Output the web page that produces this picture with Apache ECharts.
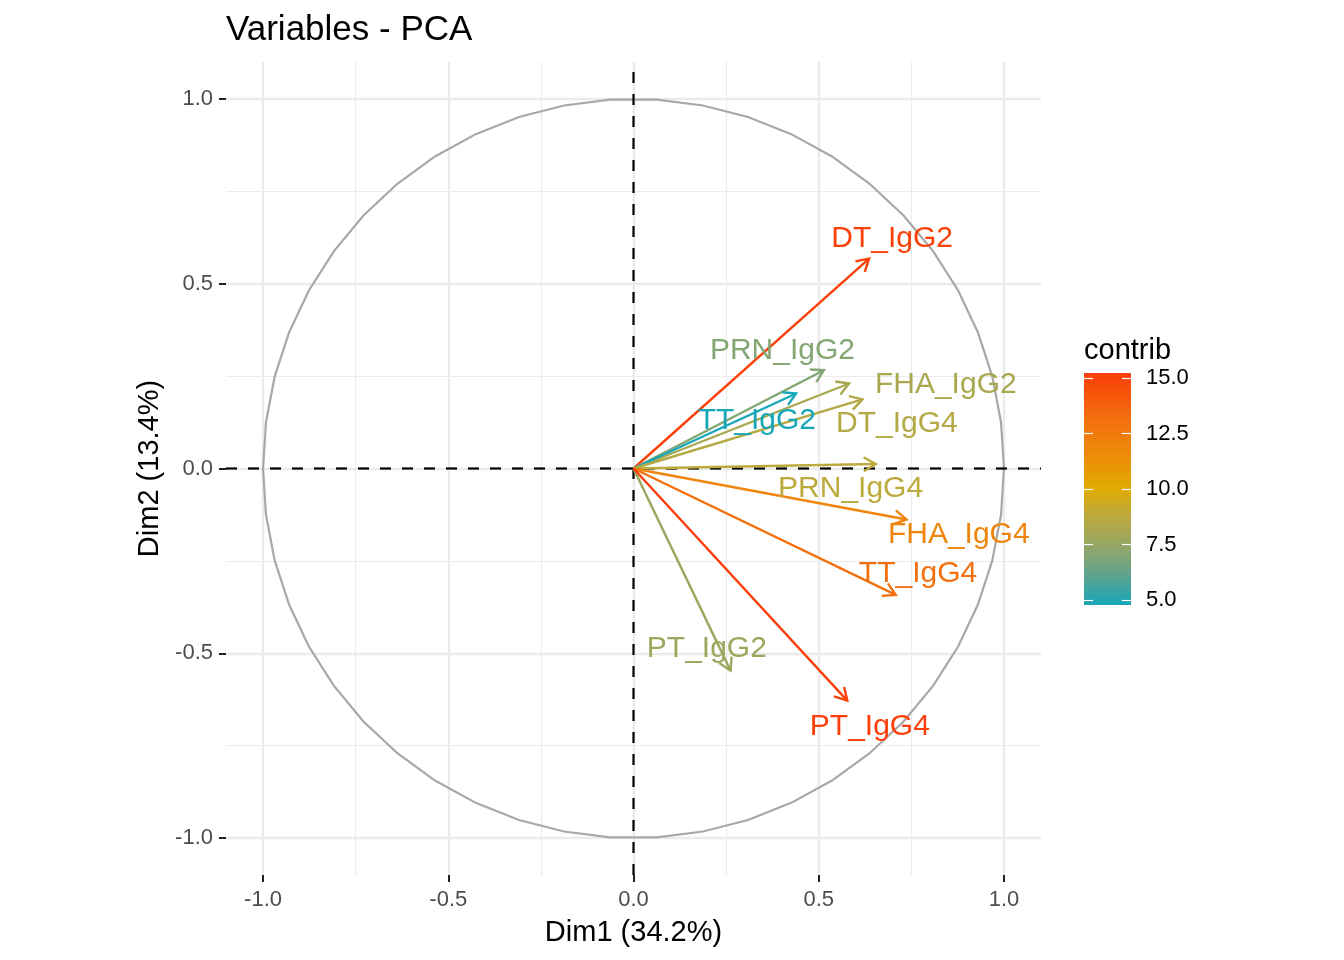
<!DOCTYPE html>
<html>
<head>
<meta charset="utf-8">
<title>Variables - PCA</title>
<script src="https://cdn.jsdelivr.net/npm/echarts@6/dist/echarts.min.js"></script>
<style>
  html, body { margin: 0; padding: 0; background: #fff; }
  #chart { width: 1344px; height: 960px; }
</style>
</head>
<body>
<div id="chart"></div>
<script>
// variable coordinates on Dim1 / Dim2
var varNames = ['DT_IgG2', 'PRN_IgG2', 'FHA_IgG2', 'TT_IgG2', 'DT_IgG4', 'PRN_IgG4', 'FHA_IgG4', 'TT_IgG4', 'PT_IgG2', 'PT_IgG4'];
var dim1 = [0.636, 0.514, 0.582, 0.439, 0.618, 0.654, 0.737, 0.708, 0.262, 0.577];
var dim2 = [0.568, 0.266, 0.230, 0.203, 0.187, 0.012, -0.138, -0.342, -0.547, -0.628];
var contrib = [15.10, 6.97, 8.10, 4.78, 8.50, 8.80, 11.90, 13.10, 7.70, 15.23];
// where each label text sits (data units)
var labelX = [0.698, 0.402, 0.843, 0.333, 0.711, 0.586, 0.878, 0.768, 0.198, 0.638];
var labelY = [0.625, 0.322, 0.232, 0.133, 0.124, -0.052, -0.174, -0.282, -0.484, -0.696];

var axisTicks = [-1, -0.5, 0, 0.5, 1];
var minorTicks = [-0.75, -0.25, 0.25, 0.75];
var legendTicks = [5, 7.5, 10, 12.5, 15];
// colour ramp sampled from the legend bar (low -> high)
var rampPos = [0, 0.12, 0.22, 0.32, 0.40, 0.50, 0.65, 0.80, 1];
var rampHex = ['#17A7B9', '#5AA391', '#88A670', '#AAA850', '#C0AA38', '#E0AB00', '#EE8A0A', '#F2700E', '#FB3E0A'];

var axisMin = -1.1, axisMax = 1.1;
var circlePoints = 51;
var contribMin = Math.min.apply(null, contrib);
var contribMax = Math.max.apply(null, contrib);
var fontFamily = '"Liberation Sans", Arial, Helvetica, sans-serif';

function hexRgb(h) {
    return [parseInt(h.substr(1, 2), 16), parseInt(h.substr(3, 2), 16), parseInt(h.substr(5, 2), 16)];
}
function rampColor(t) {
    t = Math.max(0, Math.min(1, t));
    var k = 0;
    while (k < rampPos.length - 2 && t > rampPos[k + 1]) k++;
    var f = (t - rampPos[k]) / (rampPos[k + 1] - rampPos[k]);
    var a = hexRgb(rampHex[k]), b = hexRgb(rampHex[k + 1]);
    var c = [0, 1, 2].map(function (j) { return Math.round(a[j] + (b[j] - a[j]) * f); });
    return 'rgb(' + c.join(',') + ')';
}
function contribColor(v) {
    return rampColor((v - contribMin) / (contribMax - contribMin));
}

var arrowData = [], labelData = [];
for (var i = 0; i < varNames.length; i++) {
    arrowData.push([dim1[i], dim2[i], contrib[i]]);
    labelData.push([labelX[i], labelY[i], contrib[i]]);
}

function renderCircle(params, api) {
    var pts = [];
    for (var k = 0; k < circlePoints; k++) {
        var t = 2 * Math.PI * k / (circlePoints - 1);
        pts.push(api.coord([Math.cos(t), Math.sin(t)]));
    }
    return {
        type: 'polyline',
        shape: { points: pts },
        style: { stroke: '#A8A8A8', lineWidth: 2.2, fill: null }
    };
}

function renderZeroLines(params, api) {
    var v0 = api.coord([0, axisMin]), v1 = api.coord([0, axisMax]);
    var h0 = api.coord([axisMin, 0]), h1 = api.coord([axisMax, 0]);
    var st = { stroke: '#000', lineWidth: 2.2, lineDash: [11, 11] };
    return {
        type: 'group',
        children: [
            { type: 'line', shape: { x1: h0[0], y1: h0[1], x2: h1[0], y2: h1[1] }, style: st },
            { type: 'line', shape: { x1: v0[0], y1: v0[1], x2: v1[0], y2: v1[1] }, style: st }
        ]
    };
}

function renderArrow(params, api) {
    var start = api.coord([0, 0]);
    var end = api.coord([api.value(0), api.value(1)]);
    var color = contribColor(api.value(2));
    var ang = Math.atan2(end[1] - start[1], end[0] - start[0]);
    var len = 14, spread = Math.PI / 6;
    var a1 = [end[0] - len * Math.cos(ang - spread), end[1] - len * Math.sin(ang - spread)];
    var a2 = [end[0] - len * Math.cos(ang + spread), end[1] - len * Math.sin(ang + spread)];
    return {
        type: 'group',
        children: [
            { type: 'line', shape: { x1: start[0], y1: start[1], x2: end[0], y2: end[1] },
              style: { stroke: color, lineWidth: 2.4 } },
            { type: 'polyline', shape: { points: [a1, end, a2] },
              style: { stroke: color, lineWidth: 2.4, fill: null } }
        ]
    };
}

function renderLabel(params, api) {
    var p = api.coord([api.value(0), api.value(1)]);
    return {
        type: 'text',
        x: p[0],
        y: p[1] + 1.5,
        style: {
            text: varNames[params.dataIndex],
            fill: contribColor(api.value(2)),
            fontSize: 30,
            fontFamily: fontFamily,
            align: 'center',
            verticalAlign: 'middle'
        }
    };
}

function renderColorBar(params, api) {
    var top = api.coord([0, contribMax]);
    var bottom = api.coord([1, contribMin]);
    var stops = rampPos.map(function (p, k) {
        return { offset: 1 - p, color: rampHex[k] };
    }).reverse();
    return {
        type: 'rect',
        shape: { x: top[0], y: top[1], width: bottom[0] - top[0], height: bottom[1] - top[1] },
        style: { fill: new echarts.graphic.LinearGradient(0, 0, 0, 1, stops) }
    };
}

function fmt(v) { return v.toFixed(1); }

function mainAxis(name, extra) {
    var a = {
        type: 'value',
        gridIndex: 0,
        min: axisMin,
        max: axisMax,
        name: name,
        nameLocation: 'middle',
        nameTextStyle: { fontSize: 29, color: '#000', fontFamily: fontFamily },
        axisLine: { show: false, onZero: false },
        axisTick: { show: true, length: 7, customValues: axisTicks, lineStyle: { color: '#222', width: 2 } },
        splitLine: { show: true, lineStyle: { color: '#EBEBEB', width: 2.4 } }
    };
    for (var k in extra) a[k] = extra[k];
    return a;
}

function minorAxis(pos) {
    return {
        type: 'value',
        gridIndex: 0,
        min: axisMin,
        max: axisMax,
        position: pos,
        axisLine: { show: false, onZero: false },
        axisTick: { show: false, customValues: minorTicks },
        axisLabel: { show: false, customValues: minorTicks },
        splitLine: { show: true, lineStyle: { color: '#EBEBEB', width: 1.2 } }
    };
}

var chart = echarts.init(document.getElementById('chart'));
var option = {
    animation: false,
    backgroundColor: '#ffffff',
    textStyle: { fontFamily: fontFamily },
    title: {
        text: 'Variables - PCA',
        left: 226,
        top: 13,
        padding: 0,
        textStyle: { fontSize: 35, fontWeight: 'normal', color: '#000', fontFamily: fontFamily }
    },
    grid: [
        { left: 226, top: 62, width: 815, height: 813, outerBoundsMode: 'none' },
        { left: 1084, top: 373, width: 47, height: 232, outerBoundsMode: 'none' }
    ],
    xAxis: [
        mainAxis('Dim1 (34.2%)', { position: 'bottom', nameGap: 43,
            axisLabel: { customValues: axisTicks, formatter: fmt, fontSize: 22, color: '#4D4D4D', fontFamily: fontFamily, margin: 14 } }),
        minorAxis('top'),
        { type: 'value', gridIndex: 1, min: 0, max: 1, show: false }
    ],
    yAxis: [
        mainAxis('Dim2 (13.4%)', { position: 'left', nameGap: 51, nameRotate: 90,
            axisLabel: { customValues: axisTicks, formatter: fmt, fontSize: 22, color: '#4D4D4D', fontFamily: fontFamily, margin: 13, padding: [2, 0, 0, 0] } }),
        minorAxis('right'),
        {
            type: 'value', gridIndex: 1, min: contribMin, max: contribMax, position: 'right', z: 10,
            axisLine: { show: false, onZero: false },
            axisTick: { show: true, inside: true, length: 9, customValues: legendTicks, lineStyle: { color: '#ffffff', width: 1.2 } },
            axisLabel: { customValues: legendTicks, formatter: fmt, fontSize: 22, color: '#000', margin: 15, fontFamily: fontFamily, padding: [5, 0, 0, 0] },
            splitLine: { show: false }
        },
        {
            type: 'value', gridIndex: 1, min: contribMin, max: contribMax, position: 'left', z: 10,
            axisLine: { show: false, onZero: false },
            axisTick: { show: true, inside: true, length: 9, customValues: legendTicks, lineStyle: { color: '#ffffff', width: 1.2 } },
            axisLabel: { show: false },
            splitLine: { show: false }
        }
    ],
    graphic: [
        {
            type: 'text', left: 1084, top: 336,
            style: { text: 'contrib', fontSize: 29, fontFamily: fontFamily, fill: '#000' }
        }
    ],
    series: [
        { type: 'custom', name: 'circle', xAxisIndex: 0, yAxisIndex: 0, data: [[0, 0]], renderItem: renderCircle, silent: true, z: 2 },
        { type: 'custom', name: 'zero', xAxisIndex: 0, yAxisIndex: 0, data: [[0, 0]], renderItem: renderZeroLines, silent: true, z: 3 },
        { type: 'custom', name: 'arrows', xAxisIndex: 0, yAxisIndex: 0, data: arrowData, renderItem: renderArrow, z: 4 },
        { type: 'custom', name: 'labels', xAxisIndex: 0, yAxisIndex: 0, data: labelData, renderItem: renderLabel, z: 5 },
        { type: 'custom', name: 'colorbar', xAxisIndex: 2, yAxisIndex: 2, data: [[0, contribMin]], renderItem: renderColorBar, silent: true, z: 2 }
    ]
};
chart.setOption(option);
</script>
</body>
</html>
